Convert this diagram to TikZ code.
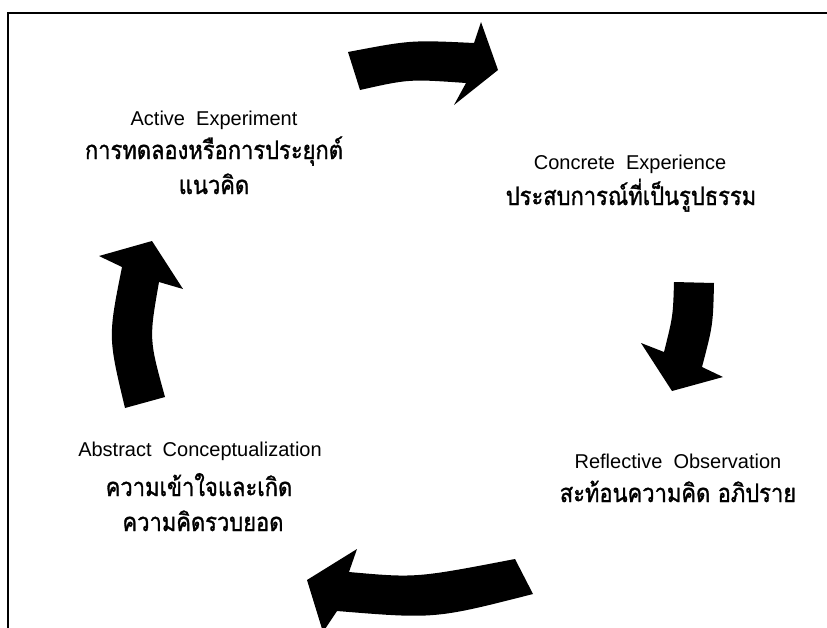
\documentclass[tikz,border=0pt]{standalone}
\usepackage{fontspec}
\setmainfont{Liberation Sans}
\newfontfamily\thaifont[Script=Thai,FakeBold=1.2,FakeStretch=0.86]{Loma}
\begin{document}
\begin{tikzpicture}[x=1pt,y=-1pt,
  cyclearrow/.style={fill=black,draw=none},
  entext/.style={font=\fontsize{20}{23}\selectfont,inner sep=0pt,anchor=base},
  thtext/.style={font=\thaifont\fontsize{25.5}{28}\selectfont,inner sep=0pt,anchor=base},
  frameline/.style={line width=2pt}]
\useasboundingbox (0,0) rectangle (827,627);
\clip (0,0) rectangle (827,627);
\fill[white] (0,0) rectangle (827,627);
% frame
\draw[frameline] (8,640) -- (8,13) -- (840,13);
% top arrow
\fill[cyclearrow] (348,52) .. controls (411,40) .. (474,43) -- (481,22) -- (498,70)
  -- (454,105) -- (466,83) .. controls (409,79) .. (360,90) -- cycle;
% right arrow
\fill[cyclearrow] (674,282) -- (714,283) .. controls (713,325) .. (702,367) -- (723,377)
  -- (672,391) -- (641,343) -- (664,352) .. controls (673,316) .. cycle;
% bottom arrow
\fill[cyclearrow] (515,559) -- (533,594) .. controls (435,619) .. (337,611) -- (323,632)
  -- (307,580) -- (357,549) -- (349,572) .. controls (416,578) .. cycle;
% left arrow
\fill[cyclearrow] (125,408) -- (165,397) .. controls (149,339) .. (159,282) -- (183,289)
  -- (152,241) -- (99,256) -- (122,267) .. controls (108,337) .. cycle;
% labels
\node[entext] (aeen) at (214,125) {Active~ Experiment};
\node[thtext] (aeth1) at (214,159) {การทดลองหรือการประยุกต์};
\node[thtext] (aeth2) at (214,194) {แนวคิด};
\node[entext] (ceen) at (630,169) {Concrete~ Experience};
\node[thtext] (ceth) at (631,205) {ประสบการณ์ที่เป็นรูปธรรม};
\node[entext] (roen) at (678,468) {Reflective~ Observation};
\node[thtext] (roth) at (678,502) {สะท้อนความคิด อภิปราย};
\node[entext] (acen) at (200,456) {Abstract~ Conceptualization};
\node[thtext] (acth1) at (199,496) {ความเข้าใจและเกิด};
\node[thtext] (acth2) at (203,531) {ความคิดรวบยอด};
\end{tikzpicture}
\end{document}
